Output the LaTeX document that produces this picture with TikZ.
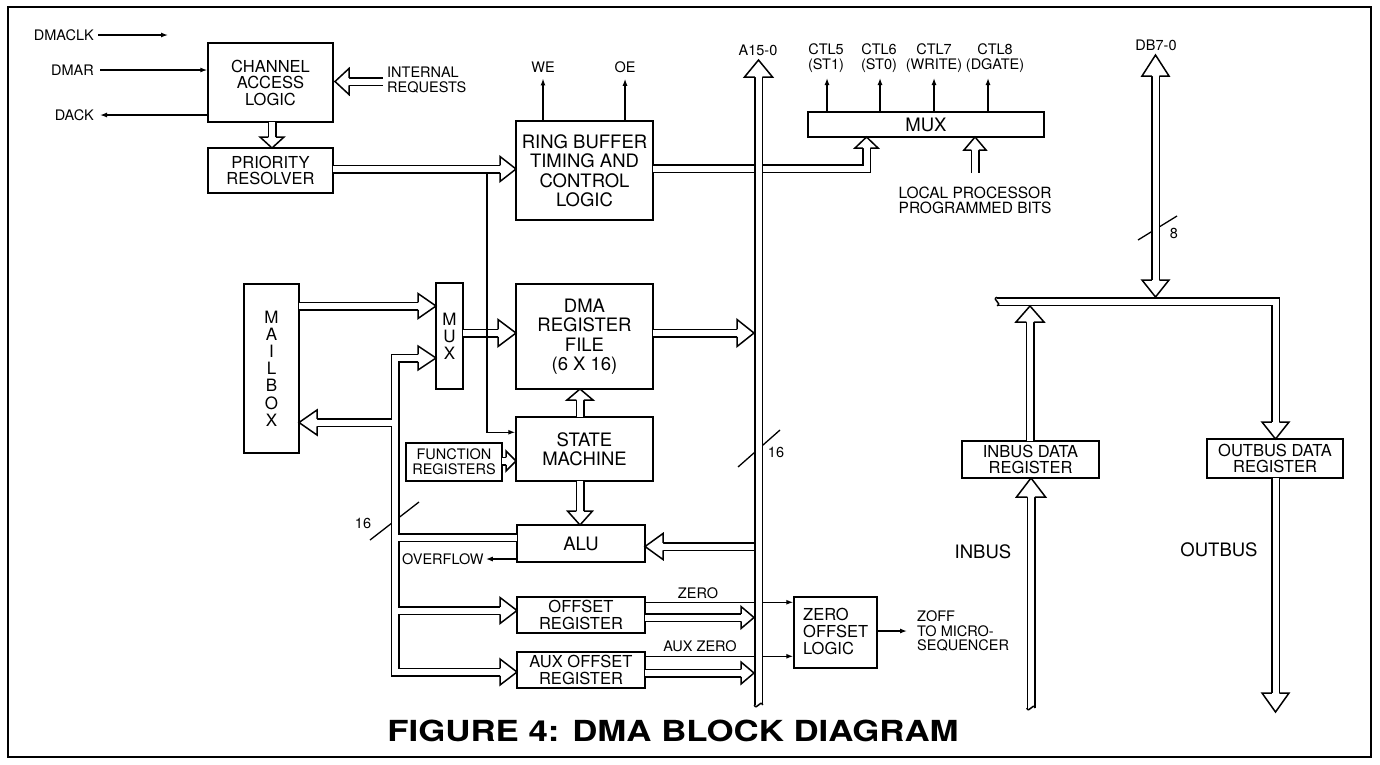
\documentclass[tikz,border=0pt]{standalone}
\usepackage{fontspec}
\setmainfont{TeX Gyre Heros}
\usetikzlibrary{arrows.meta}
\newcommand\bushead[5]{%
  \begin{scope}[shift={(#2,#3)}, rotate=#1]
    \filldraw[headst] (-#4,3.75) -- (-#4,#5) -- (0,0) -- (-#4,-#5) -- (-#4,-3.75);
  \end{scope}}
\newcommand\busdraw[1]{\draw[busout] #1; \draw[busin] #1;}
\begin{document}
\begin{tikzpicture}[x=1pt,y=-1pt,
  box/.style={draw, line width=1.5pt, inner sep=0pt, align=center},
  thinl/.style={line width=1.3pt},
  arr/.style={line width=1.3pt, -{Latex[length=7pt,width=5pt]}},
  lbl/.style={inner sep=0pt, font=\fontsize{14.5}{15}\selectfont, align=center},
  bts/.style={font=\fontsize{16.5}{16.5}\selectfont},
  btm/.style={font=\fontsize{18.5}{19.5}\selectfont},
  busout/.style={line width=9pt, line cap=butt, line join=miter},
  busin/.style={line width=6pt, line cap=butt, line join=miter, white},
  headst/.style={fill=white, draw, line width=1.5pt, line join=miter},
  wave/.style={line width=1.5pt},
]
\useasboundingbox (0,0) rectangle (1380,764);
\draw[line width=2pt] (8,7) rectangle (1371,757);

% ---------------- boxes
\node[box, bts, minimum width=125pt, minimum height=79pt] (cal) at (270.5,82.5) {CHANNEL\\ACCESS\\LOGIC};
\node[box, bts, minimum width=125pt, minimum height=45pt] (pr) at (270.5,170.5) {PRIORITY\\RESOLVER};
\node[box, btm, minimum width=137pt, minimum height=99pt] (rb) at (584.5,170.5) {RING BUFFER\\TIMING AND\\CONTROL\\LOGIC};
\node[box, btm, minimum width=236pt, minimum height=25pt] (mux) at (926,124.5) {MUX};
\node[box, minimum width=55pt, minimum height=169pt, font=\fontsize{17}{17.2}\selectfont] (mbox) at (271.5,368.5) {M\\A\\I\\L\\B\\O\\X};
\node[box, minimum width=27pt, minimum height=106pt, font=\fontsize{17}{17}\selectfont] (lmux) at (449.5,336) {M\\U\\X};
\node[box, btm, minimum width=137pt, minimum height=105pt] (drf) at (584.5,336.5) {DMA\\REGISTER\\FILE\\(6 X 16)};
\node[box, btm, minimum width=137pt, minimum height=64pt] (sm) at (584.5,449) {STATE\\MACHINE};
\node[box, font=\fontsize{14.5}{15}\selectfont, minimum width=96pt, minimum height=38pt] (fr) at (454,462) {FUNCTION\\REGISTERS};
\node[box, btm, minimum width=128pt, minimum height=37pt] (alu) at (581,543.5) {ALU};
\node[box, font=\fontsize{16.5}{17}\selectfont, minimum width=128pt, minimum height=36pt] (or) at (581,615) {OFFSET\\REGISTER};
\node[box, font=\fontsize{16.5}{17}\selectfont, minimum width=128pt, minimum height=36pt] (aor) at (581,670) {AUX OFFSET\\REGISTER};
\node[box, minimum width=83pt, minimum height=71pt] (zol) at (835.5,632.5) {};
\node[anchor=west, inner sep=0pt, align=left, font=\fontsize{16.5}{17}\selectfont] (zoltxt) at (803,631) {ZERO\\OFFSET\\LOGIC};
\node[box, font=\fontsize{16.5}{16}\selectfont, minimum width=137pt, minimum height=37pt] (ibr) at (1030.5,459.5) {INBUS DATA\\REGISTER};
\node[box, font=\fontsize{16.5}{16}\selectfont, minimum width=136pt, minimum height=39pt] (obr) at (1275,458.5) {OUTBUS DATA\\REGISTER};

% ---------------- labels
\node[lbl, anchor=east] (dmaclk) at (94,35) {DMACLK};
\node[lbl, anchor=east] (dmar) at (94,70) {DMAR};
\node[lbl, anchor=east] (dack) at (94,115) {DACK};
\node[lbl, anchor=west, align=left] (ireq) at (387,80) {INTERNAL\\REQUESTS};
\node[lbl] (we) at (543,67) {WE};
\node[lbl] (oe) at (625,67) {OE};
\node[lbl] (alab) at (758,50) {A15-0};
\node[lbl] (ctl5) at (826,58) {CTL5\\(ST1)};
\node[lbl] (ctl6) at (879,58) {CTL6\\(ST0)};
\node[lbl] (ctl7) at (934,58) {CTL7\\(WRITE)};
\node[lbl] (ctl8) at (995,58) {CTL8\\(DGATE)};
\node[lbl, font=\fontsize{15.5}{15}\selectfont] (lpb) at (975,200.5) {LOCAL PROCESSOR\\PROGRAMMED BITS};
\node[lbl] (dblab) at (1156,45) {DB7-0};
\node[lbl] (w8) at (1174,233) {8};
\node[lbl] (w16a) at (776,452) {16};
\node[lbl] (w16b) at (363,523) {16};
\node[lbl, anchor=west] (ovf) at (402,559) {OVERFLOW};
\node[lbl] (zlab) at (698,593) {ZERO};
\node[lbl] (azlab) at (700,646) {AUX ZERO};
\node[lbl, anchor=west, align=left, font=\fontsize{14.5}{14.5}\selectfont] (zoff) at (917,631) {ZOFF\\TO MICRO-\\SEQUENCER};
\node[inner sep=0pt, font=\fontsize{18.5}{19}\selectfont] (inbus) at (983,552) {INBUS};
\node[inner sep=0pt, font=\fontsize{18.5}{19}\selectfont] (outbus) at (1219,550) {OUTBUS};
\node[inner sep=0pt, font=\fontsize{29}{29}\selectfont\bfseries] (title) at (673,731) {\scalebox{1.2}[1]{FIGURE 4: DMA BLOCK DIAGRAM}};

% ---------------- thin signal lines
\coordinate (clkend) at (168,35);
\draw[arr] ([xshift=4pt]dmaclk.east) -- (clkend);
\draw[arr] ([xshift=6pt]dmar.east) -- (cal.west |- dmar.east);
\draw[arr] (cal.west |- dack.east) -- ([xshift=6pt]dack.east);
\draw[arr] (we |- rb.north) -- ([yshift=-6pt]we.south);
\draw[arr] (oe |- rb.north) -- ([yshift=-6pt]oe.south);
\coordinate (c5) at (827,78);
\coordinate (c6) at (880,78);
\coordinate (c7) at (934,78);
\coordinate (c8) at (988,78);
\foreach \c in {c5,c6,c7,c8} \draw[arr] (\c |- mux.north) -- (\c);
\draw[arr] (alu.west |- ovf.east) -- ([xshift=2pt]ovf.east);
\draw[arr] (zol.east |- zoff.west) -- ([xshift=-10pt]zoff.west);
\coordinate (zr) at ([yshift=-6pt]or.north east);
\coordinate (azr) at ([yshift=-5pt]aor.north east);
\draw[arr] (zr) -- (zr -| zol.west);
\draw[arr] (azr) -- (azr -| zol.west);

% bus-width slashes
\draw[thinl] (738,467) -- (780,430);
\draw[thinl] (370,540) -- (419,502);
\draw[thinl] (1138,240) -- (1177,216);

% ---------------- buses
\busdraw{(333,169) -- (500,169)}
\busdraw{(272,122) -- (272,137)}
\busdraw{(383,81.5) -- (349,81.5)}
\busdraw{(653,168.5) -- (866.5,168.5) -- (866.5,148)}
\busdraw{(975,173) -- (975,150)}
\busdraw{(299,306) -- (418,306)}
\busdraw{(463,333) -- (498,333)}
\busdraw{(653,333) -- (737,333)}
\busdraw{(580,417) -- (580,400)}
\busdraw{(502,461) -- (506,461)}
\busdraw{(580,481) -- (580,511)}
\busdraw{(755,546.5) -- (663,546.5)}
\busdraw{(645,617.5) -- (741,617.5)}
\busdraw{(645,673) -- (741,673)}
% left 16-bit bus tree
\busdraw{(418,358) -- (395,358) -- (395,672) -- (500,672) (395,422.5) -- (317,422.5) (395,537.5) -- (517,537.5) (395,610.5) -- (500,610.5)}
% data bus
\busdraw{(1155.5,76) -- (1155.5,280)}
\busdraw{(997,301.5) -- (1275.5,301.5) -- (1275.5,422)}
\busdraw{(1030,441) -- (1030,322)}
\busdraw{(1031,708) -- (1031,497)}
\busdraw{(1275.5,478) -- (1275.5,693)}
% address bus
\busdraw{(758.5,705) -- (758.5,77)}

% wavy ends
\draw[wave] (754.25,705) .. controls (756.5,711) and (760.5,699) .. (762.75,705);
\draw[wave] (1026.75,708) .. controls (1029,714) and (1033,702) .. (1035.25,708);
\draw[wave] (997,297.25) .. controls (991,299.5) and (1003,303.5) .. (997,305.75);

% ---------------- heads
\bushead{0}{516}{169}{16}{12.5}
\bushead{-90}{272}{148}{11}{12}
\bushead{180}{335}{81.5}{14}{13}
\bushead{90}{866.5}{137}{11}{11.5}
\bushead{90}{975}{137}{13}{11}
\bushead{0}{436}{306}{18}{12.5}
\bushead{0}{516}{333}{18}{13.5}
\bushead{0}{754}{333}{17}{13.5}
\bushead{90}{580}{389}{11}{13}
\bushead{0}{516}{461}{10}{10}
\bushead{-90}{580}{525}{14}{12.5}
\bushead{180}{645}{546.5}{18}{13}
\bushead{0}{754}{617.5}{13}{11}
\bushead{0}{754}{673}{13}{11}
\bushead{0}{436}{358}{18}{12}
\bushead{180}{299}{422.5}{18}{12.5}
\bushead{0}{517}{610.5}{17}{13}
\bushead{0}{517}{672}{17}{13}
\bushead{90}{1155.5}{55}{21}{13.5}
\bushead{-90}{1155.5}{297}{17}{13.5}
\bushead{-90}{1275.5}{439}{17}{13.5}
\bushead{90}{1030}{306}{16}{14}
\bushead{90}{1031}{478}{19}{14.5}
\bushead{-90}{1275.5}{712}{19}{13.5}
\bushead{90}{758.5}{60}{17}{14}

% thin line from priority bus to state machine (on top)
\draw[arr] (487,173.5) |- ([yshift=-16pt]sm.north west);
\end{tikzpicture}
\end{document}
